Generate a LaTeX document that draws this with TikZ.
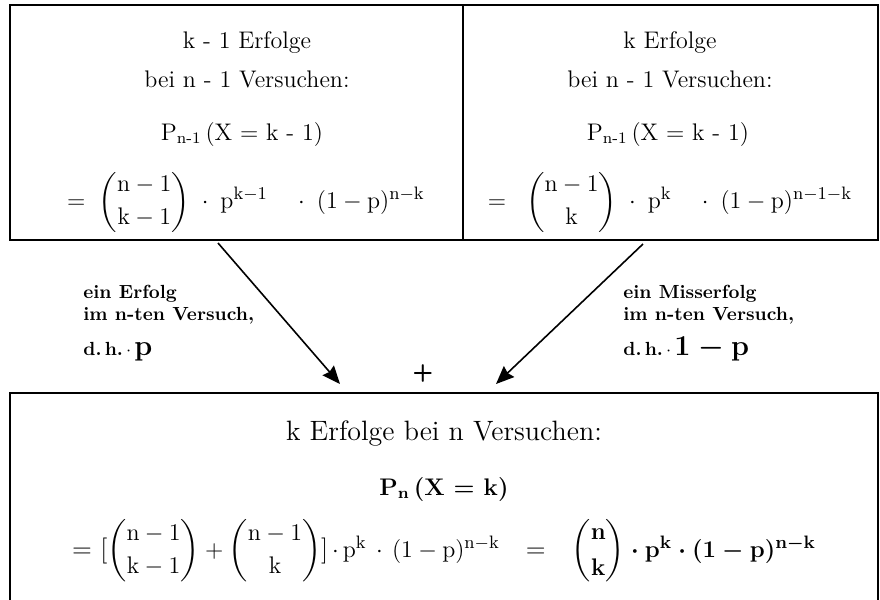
\documentclass[tikz,border=0pt]{standalone}
\usepackage{amsmath,amssymb}
\usepackage{tikz}
\usetikzlibrary{arrows.meta,positioning}
\newcommand{\Rn}{\mathrm{n}}
\newcommand{\Rk}{\mathrm{k}}
\newcommand{\Rp}{\mathrm{p}}

\begin{document}
\begin{tikzpicture}[x=0.5pt, y=-0.5pt,
    boxtext/.style={font=\fontsize{12}{14}\selectfont, anchor=base, inner sep=0pt},
    boxmath/.style={font=\fontsize{12.5}{15}\selectfont, anchor=base, inner sep=0pt},
    restext/.style={font=\fontsize{13}{15}\selectfont, anchor=base, inner sep=0pt},
    hint/.style={font=\fontsize{9.5}{11}\selectfont\bfseries, anchor=base west, inner sep=0pt},
    flow/.style={-{Stealth[length=9pt, width=7.5pt, inset=1pt]}, line width=0.8pt}]
    \useasboundingbox (0,0) rectangle (880,600);

    % Frames
    \draw[line width=1pt] (10,5) rectangle (878,240);
    \draw[line width=0.8pt] (463,5) -- (463,240);
    \draw[line width=1pt] (10,393) rectangle (878,620);

    % Left frame
    \node[boxtext] (ltitle) at (247,48) {k - 1 Erfolge};
    \node[boxtext] (lsub) at (247,87) {bei n - 1 Versuchen:};
    \node[boxtext] (lprob) at (242,140) {P\textsubscript{n-1}\,(X = k - 1)};
    \node[boxmath] (lform) at (246,208) {$=\;\dbinom{\Rn-1}{\Rk-1}\;\cdot\;\Rp^{\Rk-1}\quad\cdot\;(1-\Rp)^{\Rn-\Rk}$};

    % Right frame
    \node[boxtext] (rtitle) at (670,48) {k Erfolge};
    \node[boxtext] (rsub) at (670,87) {bei n - 1 Versuchen:};
    \node[boxtext] (rprob) at (668,140) {P\textsubscript{n-1}\,(X = k - 1)};
    \node[boxmath] (rform) at (670,208) {$=\;\;\dbinom{\Rn-1}{\Rk}\;\cdot\;\Rp^{\Rk}\quad\cdot\;(1-\Rp)^{\Rn-1-\Rk}$};

    % Connectors
    \coordinate (lfrom) at (218,243);
    \coordinate (lto) at (340,384);
    \coordinate (rfrom) at (643,244);
    \coordinate (rto) at (496,384);
    \draw[flow] (lfrom) -- (lto);
    \draw[flow] (rfrom) -- (rto);
    \node[font=\fontsize{12}{14}\selectfont\sffamily\bfseries, inner sep=0pt] (plus) at (423,373) {+};

    % Labels
    \node[hint] (lhint1) at (83,298) {ein Erfolg};
    \node[hint] (lhint2) at (83,320) {im n-ten Versuch,};
    \node[hint] (lhint3) at (83,355) {d.\,h.\,$\cdot$\,{\fontsize{14}{16}\selectfont\boldmath$\Rp$}};
    \node[hint] (rhint1) at (623,298) {ein Misserfolg};
    \node[hint] (rhint2) at (623,320) {im n-ten Versuch,};
    \node[hint] (rhint3) at (623,355) {d.\,h.\,$\cdot$\,{\fontsize{14}{16}\selectfont\boldmath$1-\Rp$}};

    % Result frame
    \node[restext, font=\fontsize{14}{16}\selectfont] (btitle) at (444,440) {k Erfolge bei n Versuchen:};
    \node[restext, font=\fontsize{12}{14}\selectfont\bfseries] (bprob) at (444,495) {P\textsubscript{n}\,(X = k)};
    \node[restext] (bform) at (444,557) {= [$\dbinom{\Rn-1}{\Rk-1}+\dbinom{\Rn-1}{\Rk}$]$\,\cdot\,\Rp^{\Rk}\,\cdot\,(1-\Rp)^{\Rn-\Rk}$\quad=\quad{\boldmath$\dbinom{\Rn}{\Rk}\cdot\Rp^{\Rk}\cdot(1-\Rp)^{\Rn-\Rk}$}};
\end{tikzpicture}
\end{document}
